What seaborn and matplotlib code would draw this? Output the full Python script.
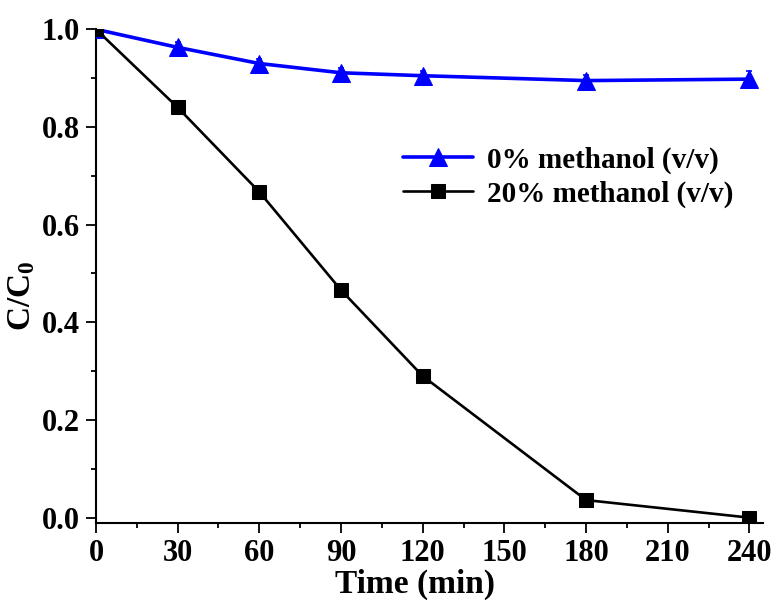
import matplotlib
matplotlib.use("Agg")
import matplotlib.pyplot as plt
import pandas as pd
import seaborn as sns
from matplotlib.ticker import MultipleLocator, FormatStrFormatter

# leitura aproximada do gráfico original
time_min = [0, 30, 60, 90, 120, 180, 240]
ratio_0pct = [1.0, 0.963, 0.930, 0.911, 0.905, 0.895, 0.898]
err_0pct = [0.0, 0.012, 0.010, 0.010, 0.010, 0.012, 0.016]
ratio_20pct = [1.0, 0.840, 0.667, 0.466, 0.290, 0.036, 0.0]
series_labels = ["0% methanol (v/v)", "20% methanol (v/v)"]

sns.set_theme(style="ticks", rc={"text.color": "black", "axes.labelcolor": "black",
                                 "xtick.color": "black", "ytick.color": "black",
                                 "axes.edgecolor": "black"})
plt.rcParams["font.family"] = ["Liberation Serif", "DejaVu Serif"]
plt.rcParams["font.weight"] = "bold"
plt.rcParams["mathtext.fontset"] = "custom"
plt.rcParams["mathtext.rm"] = "Liberation Serif:bold"
plt.rcParams["mathtext.it"] = "Liberation Serif:bold"
plt.rcParams["mathtext.bf"] = "Liberation Serif:bold"

df0 = pd.DataFrame({"t": time_min, "c": ratio_0pct})
df20 = pd.DataFrame({"t": time_min, "c": ratio_20pct})

fig = plt.figure(figsize=(7.79, 6.02), dpi=100)
ax = fig.add_axes([0.1232, 0.1312, 0.8563, 0.8201])

ax.errorbar(time_min, ratio_0pct, yerr=err_0pct, fmt="none", ecolor="blue",
            elinewidth=1.2, capsize=2.5, capthick=1.2, zorder=2)
sns.lineplot(data=df0, x="t", y="c", ax=ax, color="blue", linewidth=2.6,
             marker="^", markersize=13, markeredgecolor="blue",
             label=series_labels[0], zorder=3)
sns.lineplot(data=df20, x="t", y="c", ax=ax, color="black", linewidth=1.9,
             marker="s", markersize=10.5, markeredgecolor="black",
             label=series_labels[1], zorder=4)

ax.set_xlim(0, 245)
ax.set_ylim(-0.011, 1.0)
ax.xaxis.set_major_locator(MultipleLocator(30))
ax.xaxis.set_minor_locator(MultipleLocator(15))
ax.yaxis.set_major_locator(MultipleLocator(0.2))
ax.yaxis.set_minor_locator(MultipleLocator(0.1))
ax.yaxis.set_major_formatter(FormatStrFormatter("%.1f"))

for side in ["top", "right"]:
    ax.spines[side].set_visible(False)
for side in ["left", "bottom"]:
    ax.spines[side].set_linewidth(1.5)

ax.tick_params(which="major", direction="out", length=7, width=1.3,
               labelsize=22, pad=4.5)
ax.tick_params(which="minor", direction="out", length=3.5, width=1.3)

ax.set_xlabel("Time (min)", fontsize=24, fontweight="bold")
ax.xaxis.set_label_coords(0.478, -0.093)
ax.set_ylabel("C/C$_0$", fontsize=24, fontweight="bold")
ax.yaxis.set_label_coords(-0.088, 0.46)

ax.legend(loc="upper left", bbox_to_anchor=(0.4435, 0.786), frameon=False,
          fontsize=21, handlelength=2.37, handletextpad=0.5,
          labelspacing=0.23, borderaxespad=0)

fig.savefig("out.png", dpi=100)
plt.close(fig)
